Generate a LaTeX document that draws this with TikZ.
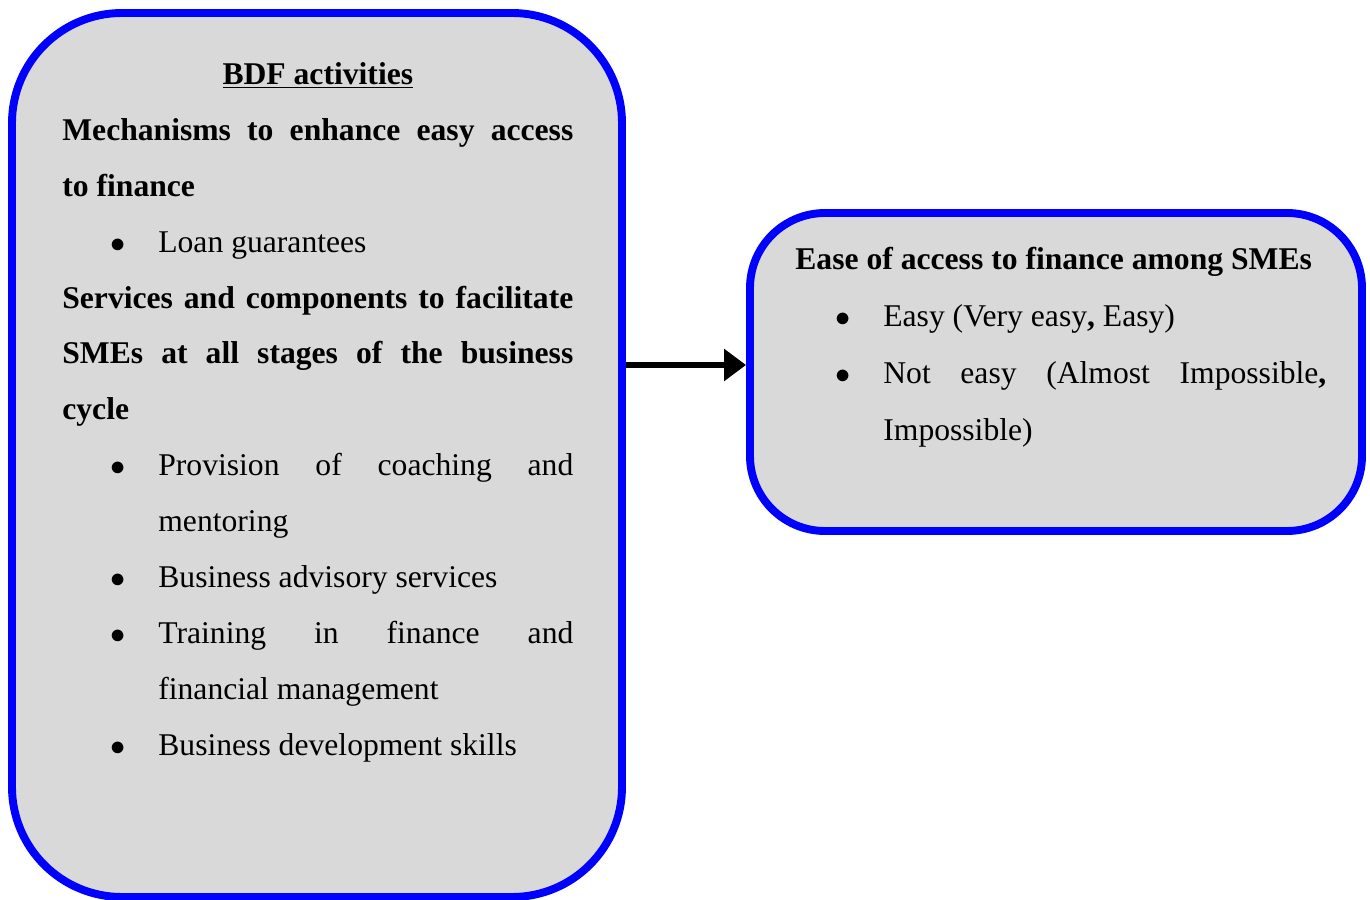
\documentclass[tikz,border=0pt]{standalone}
\usepackage{fontspec}
\setmainfont{Liberation Serif}
\usepackage{enumitem}
\usetikzlibrary{positioning, arrows.meta}
\definecolor{boxgray}{RGB}{217,217,217}
\definecolor{boxblue}{RGB}{0,0,255}
\newcommand{\boxsize}{\fontsize{18}{31.8}\selectfont}
\newcommand{\bigdot}{{\fontsize{19}{19}\selectfont$\bullet$}}
\setlist[itemize]{nosep, label=\bigdot, labelwidth=0.4cm, labelsep=0.65cm}

\begin{document}
\begin{tikzpicture}[
    roundbox/.style={rectangle, draw=boxblue, line width=4.5pt, fill=boxgray},
    boxtext/.style={anchor=base west, inner sep=0pt, align=justify},
    flow/.style={-{Triangle[length=0.44cm, width=0.62cm]}, line width=3.6pt}
]
\useasboundingbox (0,0) rectangle (27.4,17.98);

% Boxes
\node[roundbox, rounded corners=2.2cm, minimum width=12.2cm, minimum height=17.68cm] (bdf) at (6.34,8.88) {};
\node[roundbox, rounded corners=1.5cm, minimum width=12.24cm, minimum height=6.36cm] (ease) at (21.12,10.54) {};

% Box contents
\node[boxtext, text width=10.22cm] (bdftext) at (1.24,16.29) {\boxsize
  {\centering\underline{\textbf{BDF activities}}\par}
  \textbf{Mechanisms to enhance easy access\linebreak to finance}
  \begin{itemize}[leftmargin=1.92cm]
    \item Loan guarantees
  \end{itemize}
  \textbf{Services and components to facilitate\linebreak SMEs at all stages of the business\linebreak cycle}
  \begin{itemize}[leftmargin=1.92cm]
    \item Provision of coaching and\linebreak mentoring
    \item Business advisory services
    \item Training in finance and\linebreak financial management
    \item Business development skills
  \end{itemize}};
\node[boxtext, text width=10.62cm] (easetext) at (15.9,12.58) {\fontsize{18}{32.4}\selectfont
  \textbf{Ease of access to finance among SMEs}
  \begin{itemize}[leftmargin=1.76cm]
    \item Easy (Very easy\textbf{,} Easy)
    \item Not easy (Almost Impossible\textbf{,}\linebreak Impossible)
  \end{itemize}};

% Link
\coordinate (arrowend) at ([yshift=0.14cm]ease.west);
\draw[flow] (arrowend -| bdf.east) -- (arrowend);
\end{tikzpicture}
\end{document}
